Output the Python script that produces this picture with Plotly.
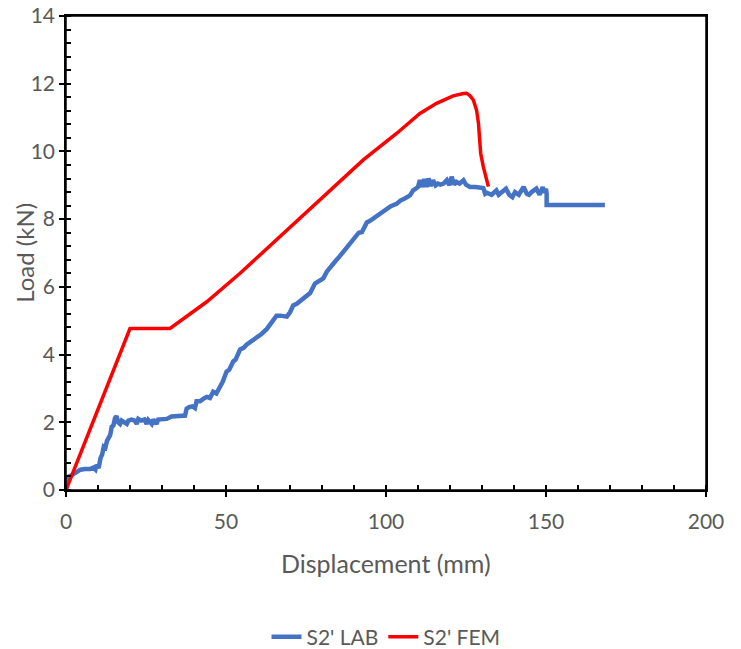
import plotly.graph_objects as go

# S2' LAB (experimental) displacement (mm) and load (kN)
lab_x = [0, 0.5, 1.5, 3, 4.5, 6, 7.5, 8.5, 9.2, 9.6,
         10.2, 10.8, 11.3, 11.8, 12.3, 12.8, 13.3, 13.8, 14.3, 14.8,
         15.3, 15.8, 16.3, 16.9, 17.4, 18, 19, 19.5, 20.5, 21.5,
         22.1, 22.6, 23.5, 24.5, 25.2, 25.7, 26.8, 27.3, 28.3, 28.8,
         30, 31.5, 33, 35, 36.6, 37.2, 37.7, 38.5, 39.5, 40.3,
         40.8, 41.9, 43, 44, 45, 46, 47, 48.1, 49, 50.2,
         51, 52.3, 53, 54.4, 55.5, 56.5, 58.5, 59.5, 61, 62.7,
         63.5, 64.5, 65.8, 67, 69, 70, 71, 72.1, 73.5, 75.2,
         76.3, 77.8, 78.8, 80.4, 81.5, 82.5, 84.1, 85.5, 87.2, 88.5,
         90.3, 91.5, 92.5, 94, 95, 97.1, 98.5, 100.2, 101.5, 103.3,
         104.5, 106, 107.5, 108.5, 110, 110.6, 111.3, 112, 112.7, 113.3,
         114, 114.7, 115.5, 116.2, 117, 118, 119, 119.8, 120.5, 121.3,
         122, 123, 124.2, 125, 126.25, 128, 130.4, 131, 131.5, 133,
         134.5, 135.2, 136, 137.5, 138.5, 139.5, 140.3, 141.5, 143, 144,
         144.7, 145.5, 147, 148, 149, 149.5, 150, 150.2, 150.2, 155,
         160, 168.4]
lab_y = [0, 0.38, 0.42, 0.5, 0.6, 0.62, 0.62, 0.66, 0.6, 0.74,
         0.65, 0.95, 1.05, 1.28, 1.25, 1.45, 1.57, 1.62, 1.87, 1.9,
         2.12, 2.18, 2.0, 1.95, 2.05, 2.02, 1.95, 2.05, 2.08, 2.05,
         1.95, 2.1, 2.05, 2.08, 1.95, 2.07, 1.95, 2.08, 1.95, 2.08,
         2.1, 2.1, 2.17, 2.17, 2.18, 2.2, 2.4, 2.45, 2.47, 2.42,
         2.62, 2.62, 2.7, 2.75, 2.72, 2.9, 2.85, 3.05, 3.2, 3.5,
         3.55, 3.8, 3.85, 4.15, 4.2, 4.3, 4.43, 4.5, 4.6, 4.75,
         4.85, 5.0, 5.15, 5.15, 5.12, 5.25, 5.45, 5.5, 5.6, 5.7,
         5.82, 6.1, 6.15, 6.25, 6.45, 6.55, 6.75, 6.9, 7.1, 7.25,
         7.45, 7.6, 7.62, 7.9, 7.95, 8.08, 8.2, 8.28, 8.38, 8.45,
         8.55, 8.62, 8.7, 8.85, 8.95, 9.15, 8.95, 9.18, 8.95, 9.2,
         8.98, 9.15, 9.0, 9.05, 9.02, 9.05, 9.15, 9.0, 9.25, 9.02,
         9.1, 9.05, 9.15, 9.02, 8.95, 8.95, 8.92, 8.75, 8.78, 8.72,
         8.85, 8.72, 8.78, 8.9, 8.72, 8.65, 8.8, 8.72, 8.95, 8.75,
         8.72, 8.8, 8.9, 8.72, 8.95, 8.78, 8.9, 8.75, 8.42, 8.42,
         8.42, 8.42]

# S2' FEM (numerical)
fem_x = [0, 20, 32.5, 44, 54.4, 66.9, 82.5, 92.9, 103.3, 110.6,
         115.8, 121, 124.2, 125.2, 126.2, 127.3, 128.3, 128.9, 129.2, 129.6,
         130.4, 132]
fem_y = [0, 4.77, 4.77, 5.56, 6.4, 7.48, 8.86, 9.75, 10.53, 11.12,
         11.42, 11.64, 11.71, 11.72, 11.65, 11.52, 11.22, 10.83, 10.43, 9.94,
         9.55, 8.96]

x_range = [0, 200]
y_range = [0, 14]

FONT = "Lato"
GRAY = "#595959"
W, H = 733, 641  # page body adds an 8px offset

fig = go.Figure()
fig.add_trace(go.Scatter(x=lab_x, y=lab_y, mode="lines", name="S2' LAB",
                         line=dict(color="#4472C4", width=4.5)))
fig.add_trace(go.Scatter(x=fem_x, y=fem_y, mode="lines", name="S2' FEM",
                         line=dict(color="#FF0000", width=3.5)))
# invisible trace for the overlay axes (inner half of crossing major ticks)
fig.add_trace(go.Scatter(x=[None], y=[None], xaxis="x2", yaxis="y2",
                         showlegend=False, hoverinfo="skip"))

axis_common = dict(showgrid=False, zeroline=False, showline=True, linecolor="black",
                   linewidth=1.5, mirror=True, ticks="outside", ticklen=5,
                   tickwidth=1.5, tickcolor="black", automargin=False,
                   ticklabeloverflow="allow",
                   tickfont=dict(family=FONT, size=21, color=GRAY))

fig.update_layout(
    width=W, height=H,
    margin=dict(l=58, r=35, t=8, b=159, autoexpand=False),
    paper_bgcolor="white", plot_bgcolor="white",
    xaxis=dict(range=x_range, dtick=50, tick0=0,
               minor=dict(dtick=10, ticks="inside", ticklen=5, tickwidth=1.5, tickcolor="black"),
               ticklabelstandoff=7, **axis_common),
    yaxis=dict(range=y_range, dtick=2, tick0=0,
               minor=dict(dtick=0.4, ticks="inside", ticklen=5, tickwidth=1.5, tickcolor="black"),
               **axis_common),
    xaxis2=dict(range=x_range, dtick=50, tick0=0, overlaying="x", anchor="y", side="bottom",
                showgrid=False, zeroline=False, showline=False, showticklabels=False,
                automargin=False,
                ticks="inside", ticklen=5, tickwidth=1.5, tickcolor="black"),
    yaxis2=dict(range=y_range, dtick=2, tick0=0, overlaying="y", anchor="x", side="left",
                showgrid=False, zeroline=False, showline=False, showticklabels=False,
                automargin=False,
                ticks="inside", ticklen=5, tickwidth=1.5, tickcolor="black"),
    legend=dict(orientation="h", x=0.5, xanchor="center", yref="container",
                y=(H - 629) / H, yanchor="middle",
                font=dict(family=FONT, size=21, color=GRAY), traceorder="normal"),
    shapes=[dict(type="rect", xref="paper", yref="paper", x0=0, y0=0, x1=1, y1=1,
                 line=dict(color="black", width=1.5), layer="above")],
    annotations=[
        dict(text="Displacement (mm)", xref="paper", yref="paper", x=0.5, y=-0.154,
             xanchor="center", yanchor="middle", showarrow=False,
             font=dict(family=FONT, size=25, color=GRAY)),
        dict(text="Load (kN)", xref="paper", yref="paper", x=-0.066, y=0.5,
             xanchor="center", yanchor="middle", textangle=-90, showarrow=False,
             font=dict(family=FONT, size=24, color=GRAY)),
    ],
)

fig.write_html("out.html")
